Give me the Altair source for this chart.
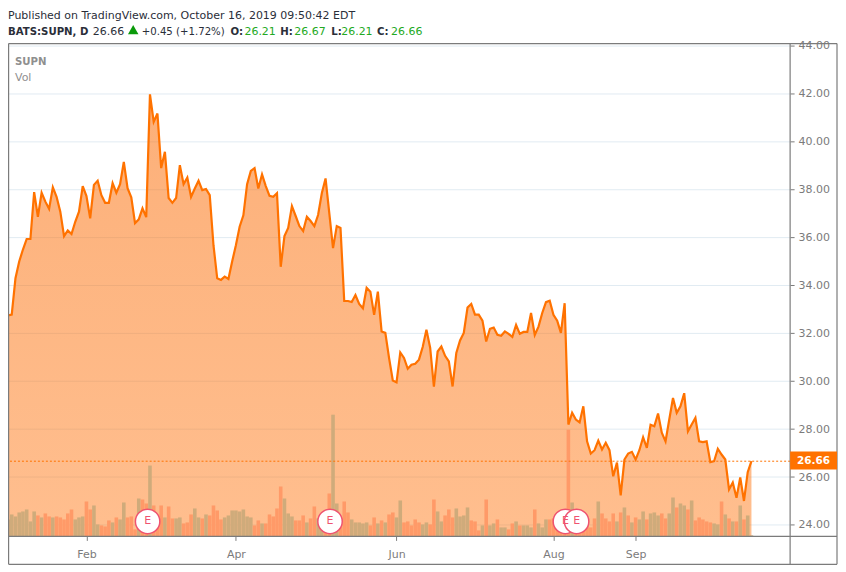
import altair as alt
import pandas as pd

close = [32.75,32.78,34.3,35.0,35.5,35.94,35.94,37.9,36.87,37.87,37.5,37.2,38.1,37.7,37.08,36.06,36.3,36.15,36.66,37.08,
38.15,37.73,36.8,38.2,38.37,37.77,37.45,37.45,38.27,37.87,38.23,39.16,38.06,37.68,36.6,36.76,37.22,36.85,41.98,40.83,
41.18,38.9,39.58,37.65,37.45,37.65,39.02,38.23,38.5,37.7,38.05,38.37,37.98,38.03,37.77,35.68,34.3,34.23,34.37,34.27,
35.0,35.68,36.45,36.93,38.23,38.78,38.9,38.05,38.64,38.15,37.74,37.7,37.85,34.78,36.06,36.4,37.31,36.9,36.48,36.27,
36.87,36.69,36.48,36.94,37.85,38.47,37.02,35.56,36.48,36.4,33.35,33.35,33.31,33.6,33.23,33.05,33.9,33.74,32.77,33.74,
32.08,32.02,30.97,30.03,29.95,31.2,30.97,30.52,30.69,30.73,30.9,31.43,32.15,31.4,29.77,31.24,31.45,31.06,30.83,29.78,
31.18,31.7,32.02,33.08,33.23,32.78,32.78,32.53,31.66,32.19,32.24,31.94,31.9,32.08,31.98,31.85,32.35,31.98,32.06,32.06,
32.85,31.93,32.28,32.85,33.3,33.36,32.77,32.53,32.02,33.26,28.19,28.68,28.4,28.28,28.95,27.49,26.98,27.12,27.52,27.15,
27.43,27.12,26.03,26.6,25.23,26.73,26.98,27.05,26.73,27.12,27.66,27.22,28.18,28.12,28.65,27.85,27.49,28.4,29.3,28.68,
28.95,29.5,27.91,28.19,28.47,27.49,27.46,27.49,26.62,26.66,27.18,26.94,26.73,25.48,25.77,25.13,25.98,25.0,26.2,26.66]

volume = [17,22,20,24,25,27,15,25,21,19,23,20,19,20,19,17,23,27,17,19,20,35,27,31,12,11,10,16,14,19,17,34,19,20,7,38,37,33,71,31,
17,31,19,30,18,18,19,13,14,22,28,19,18,22,21,31,26,17,19,21,26,26,25,27,20,19,11,16,13,13,22,20,28,50,38,23,20,16,16,21,
14,18,30,18,14,14,43,122,33,17,35,24,17,14,14,13,14,11,19,13,16,14,22,24,19,36,14,15,11,17,14,12,14,12,37,25,15,21,27,19,
28,20,21,29,16,15,6,11,37,11,13,17,9,9,7,13,15,11,11,11,9,27,13,9,17,17,18,18,17,15,107,34,12,14,11,11,9,18,35,23,
18,15,23,15,24,29,21,14,19,17,25,17,23,24,21,23,18,23,39,29,33,31,27,36,16,19,17,15,14,13,12,35,22,18,15,15,31,17,21,1]

vol_up = [1,1,1,1,1,1,1,1,0,1,0,0,1,0,0,0,0,0,1,1,1,0,0,1,1,0,0,0,1,0,1,1,0,0,0,1,0,0,1,0,
0,0,1,0,0,1,1,0,0,0,1,1,0,1,0,0,0,0,1,1,1,1,1,1,1,1,0,0,1,0,0,0,0,0,1,1,1,0,0,0,
1,0,0,1,1,0,0,1,1,0,0,0,1,1,1,1,1,0,0,1,0,1,0,0,1,1,0,0,0,0,0,1,1,0,0,1,1,0,0,0,
1,1,1,1,0,0,0,1,0,1,1,0,1,1,0,0,1,0,1,1,1,0,1,1,1,0,0,0,0,0,0,1,0,0,0,0,0,0,1,0,
0,0,0,1,0,1,0,1,0,1,1,0,1,1,1,0,0,1,1,0,1,1,0,1,0,0,0,0,0,1,1,0,1,0,1,0,1,0,1,1]

tick_positions = [21, 61, 104, 146, 168]
tick_labels = ["Feb", "Apr", "Jun", "Aug", "Sep"]
price_ticks = [24, 26, 28, 30, 32, 34, 36, 38, 40, 42, 44]
earnings = [37.37, 86.2, 149.2, 152.2]
last_price = 26.66

FONT = "DejaVu Sans"
GRAY = "#7b7b7b"
ORANGE = "#ff7200"
GREEN = "#22a922"
DARK = "#2a2e39"

df = pd.DataFrame({
    "i": range(len(close)),
    "close": close,
    "volume": volume,
    "dir": ["up" if v else "down" for v in vol_up],
})

x_scale = alt.Scale(domain=[0, 209.35], nice=False, zero=False, padding=0)
y_scale = alt.Scale(domain=[23.52, 44.1], nice=False, zero=False)
v_scale = alt.Scale(domain=[0, 494], nice=False)
X = alt.X("i:Q", scale=x_scale, title=None)
XE = alt.X("e:Q", scale=x_scale, title=None)

label_expr = "{" + ",".join(f"'{p}':'{l}'" for p, l in zip(tick_positions, tick_labels)) + "}[datum.value]"
x_axis = alt.Axis(values=tick_positions, labelExpr=label_expr, title=None, grid=False, domain=False,
                  tickColor=GRAY, tickSize=4, labelColor=GRAY, labelFont=FONT, labelFontSize=11,
                  labelPadding=8, labelFlush=False)
y_axis = alt.Axis(values=price_ticks, orient="right", format=".2f", title=None, grid=True, gridColor="#e1ebf2",
                  gridWidth=1, domain=False, tickColor=GRAY, tickSize=4, labelColor=GRAY, labelFont=FONT,
                  labelFontSize=11, labelPadding=4, labelOverlap=False, labelBound=False)

base = alt.Chart(df)

axes = base.mark_line(opacity=0).encode(
    x=alt.X("i:Q", scale=x_scale, axis=x_axis),
    y=alt.Y("close:Q", scale=y_scale, axis=y_axis),
)
area = base.mark_area(
    line=False,
    color=alt.Gradient(gradient="linear", x1=0, y1=0, x2=0, y2=1, stops=[
        alt.GradientStop(color="rgba(250,110,10,0.55)", offset=0),
        alt.GradientStop(color="rgba(255,120,20,0.48)", offset=1),
    ]),
).encode(
    x=X,
    y=alt.Y("close:Q", scale=y_scale, axis=None),
    y2=alt.datum(23.52),
)
bars = base.mark_bar(size=3.6).encode(
    x=X,
    y=alt.Y("volume:Q", scale=v_scale, axis=None),
    color=alt.Color("dir:N", legend=None,
                    scale=alt.Scale(domain=["up", "down"], range=["#cfab7b", "#ff9a68"])),
)
line = base.mark_line(color=ORANGE, strokeWidth=2.2, strokeJoin="miter").encode(
    x=X,
    y=alt.Y("close:Q", scale=y_scale, axis=None),
)
last = alt.Chart(pd.DataFrame({"p": [last_price]}))
dash = last.mark_rule(color=ORANGE, strokeWidth=1, strokeDash=[2, 2]).encode(
    y=alt.Y("p:Q", scale=y_scale, axis=None))
price_box = last.mark_rect(color=ORANGE, clip=False).encode(
    x=alt.value(784), x2=alt.value(831),
    y=alt.value(409), y2=alt.value(427))
price_text = last.mark_text(color="white", font=FONT, fontWeight="bold", fontSize=10.5,
                            align="center", baseline="middle").encode(
    x=alt.value(807.5), y=alt.value(418.5), text=alt.Text("p:Q", format=".2f"))

edf = pd.DataFrame({"e": earnings, "t": ["E"] * len(earnings)})
e_circle = alt.Chart(edf).mark_point(shape="circle", filled=True, fill="white", stroke="#ef5370",
                                     strokeWidth=1.5, size=600, opacity=1).encode(
    x=XE, y=alt.value(479))
e_text = alt.Chart(edf).mark_text(color="#ef5370", font=FONT, fontSize=11, align="center",
                                  baseline="middle").encode(
    x=XE, y=alt.value(479), text="t:N")


def frame_rule(x, y, x2=None, y2=None):
    enc = dict(x=alt.value(x), y=alt.value(y))
    if x2 is not None:
        enc["x2"] = alt.value(x2)
    if y2 is not None:
        enc["y2"] = alt.value(y2)
    return alt.Chart(alt.Data(values=[{"k": 1}])).mark_rule(color=GRAY, strokeWidth=1.2, clip=False).encode(**enc)


frame = [
    frame_rule(0.6, 0, x2=831),
    frame_rule(0.6, 522, x2=831),
    frame_rule(0.6, 494, x2=831),
    frame_rule(0.6, 0, y2=522),
    frame_rule(784, 0, y2=522),
    frame_rule(831, 0, y2=522),
]

# (text, page x, page baseline y, colour, weight, font size)
header = [
    ("Published on TradingView.com, October 16, 2019 09:50:42 EDT", 8, 18.5, DARK, "normal", 11),
    ("BATS:SUPN, D", 8, 34, DARK, "bold", 10.2),
    ("26.66", 93, 34, DARK, "normal", 11),
    ("+0.45 (+1.72%)", 142, 34, DARK, "normal", 10.2),
    ("O:", 231, 34, DARK, "bold", 10.2),
    ("26.21", 245, 34, GREEN, "normal", 11),
    ("H:", 281, 34, DARK, "bold", 10.2),
    ("26.67", 295, 34, GREEN, "normal", 11),
    ("L:", 332, 34, DARK, "bold", 10.2),
    ("26.21", 342, 34, GREEN, "normal", 11),
    ("C:", 378, 34, DARK, "bold", 10.2),
    ("26.66", 392, 34, GREEN, "normal", 11),
    ("SUPN", 15, 64, "#8f8f8f", "bold", 10.2),
    ("Vol", 15, 81, "#8f8f8f", "normal", 11),
]
texts = [
    alt.Chart(alt.Data(values=[{"t": t}])).mark_text(
        font=FONT, fontSize=s, fontWeight=w, color=c, align="left",
        baseline="alphabetic", clip=False
    ).encode(x=alt.value(px - 8), y=alt.value(py - 43), text="t:N")
    for t, px, py, c, w, s in header
]
triangle = alt.Chart(alt.Data(values=[{"k": 1}])).mark_point(
    shape="triangle-up", filled=True, color="#0a9a0a", size=110, opacity=1, clip=False
).encode(x=alt.value(125.5), y=alt.value(-14))

chart = alt.layer(
    axes, area, bars, line, dash, e_circle, e_text, *frame, price_box, price_text, *texts, triangle
).resolve_scale(y="independent", x="shared", color="independent").properties(
    width=784, height=494,
    padding={"left": 0, "top": 35, "right": 48, "bottom": 30},
    autosize=alt.AutoSizeParams(type="none"),
    background="white",
).configure_view(stroke=None)

chart.save("out.html", embed_options={"renderer": "svg", "actions": False})
